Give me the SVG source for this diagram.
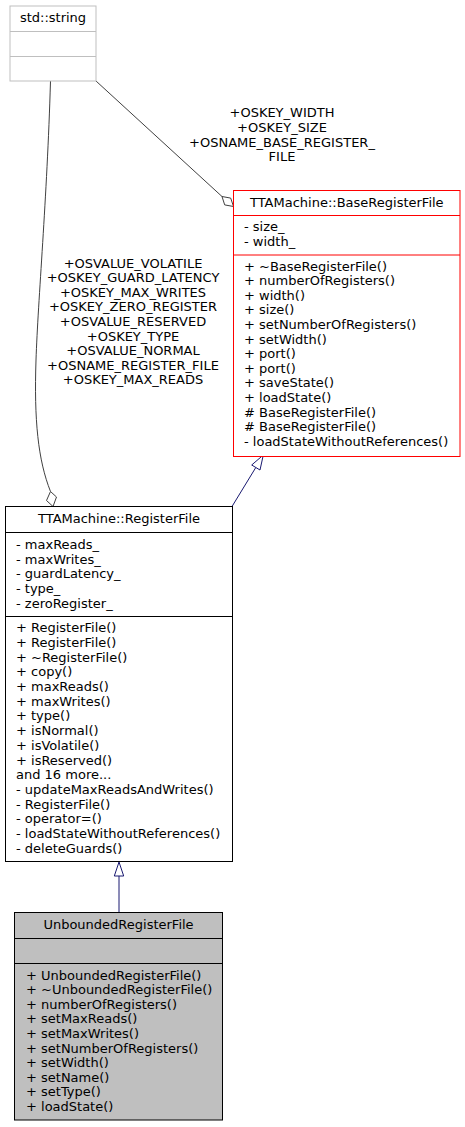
<svg xmlns="http://www.w3.org/2000/svg" width="465" height="1127" viewBox="0 0 465 1127">
<style>
text{font-family:"DejaVu Sans","Liberation Sans",sans-serif;font-size:13px;fill:#000}
.c{text-anchor:middle}
.box{fill:#fff;stroke:#000;stroke-width:1}
.sep{stroke:#000;stroke-width:1}
.agg{fill:none;stroke:#404040;stroke-width:1}
.inh{fill:none;stroke:#191970;stroke-width:1}
</style>
<rect width="465" height="1127" fill="#fff"/>
<g id="connectors">
<path class="agg" d="M50.5,81 C47,200 38,300 36,360 C34,420 38,460 50.5,491.5"/>
<polygon class="agg" points="50.5,491.5 56.5,497 53,506.5 46.5,500.5" style="fill:#fff"/>
<path class="agg" d="M96,81 L222,196.5"/>
<polygon class="agg" points="222,196.5 230.7,198.1 233.5,206.5 224.7,204.9" style="fill:#fff"/>
<path class="inh" d="M232,506.5 L255.8,467.5"/>
<polygon class="inh" points="263.3,455 251.7,465 260,470" style="fill:#fff"/>
<path class="inh" d="M119,912 L119,876"/>
<polygon class="inh" points="119,862 114.3,876 123.7,876" style="fill:#fff"/>
<g id="labels">
<text class="c" x="282" y="117">+OSKEY_WIDTH</text>
<text class="c" x="282" y="132">+OSKEY_SIZE</text>
<text class="c" x="282" y="146.5">+OSNAME_BASE_REGISTER_</text>
<text class="c" x="282" y="161">FILE</text>
<text class="c" x="133" y="267.5">+OSVALUE_VOLATILE</text>
<text class="c" x="133" y="282.1">+OSKEY_GUARD_LATENCY</text>
<text class="c" x="133" y="296.7">+OSKEY_MAX_WRITES</text>
<text class="c" x="133" y="311.3">+OSKEY_ZERO_REGISTER</text>
<text class="c" x="133" y="325.9">+OSVALUE_RESERVED</text>
<text class="c" x="133" y="340.5">+OSKEY_TYPE</text>
<text class="c" x="133" y="355.1">+OSVALUE_NORMAL</text>
<text class="c" x="133" y="369.7">+OSNAME_REGISTER_FILE</text>
<text class="c" x="133" y="384.3">+OSKEY_MAX_READS</text>
</g>
</g>
<g id="std_string">
<rect x="10" y="6" width="86" height="75" style="fill:#fff;stroke:#bfbfbf"/>
<line x1="10" y1="31.5" x2="96" y2="31.5" stroke="#bfbfbf"/>
<line x1="10" y1="56.5" x2="96" y2="56.5" stroke="#bfbfbf"/>
<text class="c" x="53" y="21.5">std::string</text>
</g>
<g id="BaseRegisterFile">
<rect x="233.5" y="190.5" width="226.5" height="266" style="fill:#fff;stroke:#ff0000"/>
<line x1="233.5" y1="215.5" x2="460" y2="215.5" stroke="#ff0000"/>
<line x1="233.5" y1="255" x2="460" y2="255" stroke="#ff0000"/>
<text class="c" x="346.8" y="206.5">TTAMachine::BaseRegisterFile</text>
<text x="244" y="231">- size_</text>
<text x="244" y="245.7">- width_</text>
<text x="244" y="270.5">+ ~BaseRegisterFile()</text>
<text x="244" y="285.1">+ numberOfRegisters()</text>
<text x="244" y="299.7">+ width()</text>
<text x="244" y="314.3">+ size()</text>
<text x="244" y="328.9">+ setNumberOfRegisters()</text>
<text x="244" y="343.5">+ setWidth()</text>
<text x="244" y="358.1">+ port()</text>
<text x="244" y="372.7">+ port()</text>
<text x="244" y="387.3">+ saveState()</text>
<text x="244" y="401.9">+ loadState()</text>
<text x="244" y="416.5"># BaseRegisterFile()</text>
<text x="244" y="431.1"># BaseRegisterFile()</text>
<text x="244" y="445.7">- loadStateWithoutReferences()</text>
</g>
<g id="RegisterFile">
<rect class="box" x="5.5" y="506.5" width="227" height="355"/>
<line class="sep" x1="5.5" y1="532.5" x2="232.5" y2="532.5"/>
<line class="sep" x1="5.5" y1="616.5" x2="232.5" y2="616.5"/>
<text class="c" x="119" y="522.5">TTAMachine::RegisterFile</text>
<text x="16" y="548.8">- maxReads_</text>
<text x="16" y="563.5">- maxWrites_</text>
<text x="16" y="578.2">- guardLatency_</text>
<text x="16" y="592.9">- type_</text>
<text x="16" y="607.6">- zeroRegister_</text>
<text x="16" y="632.2">+ RegisterFile()</text>
<text x="16" y="646.9">+ RegisterFile()</text>
<text x="16" y="661.6">+ ~RegisterFile()</text>
<text x="16" y="676.3">+ copy()</text>
<text x="16" y="691">+ maxReads()</text>
<text x="16" y="705.7">+ maxWrites()</text>
<text x="16" y="720.4">+ type()</text>
<text x="16" y="735.1">+ isNormal()</text>
<text x="16" y="749.8">+ isVolatile()</text>
<text x="16" y="764.5">+ isReserved()</text>
<text x="16" y="779.2">and 16 more...</text>
<text x="16" y="793.9">- updateMaxReadsAndWrites()</text>
<text x="16" y="808.6">- RegisterFile()</text>
<text x="16" y="823.3">- operator=()</text>
<text x="16" y="838">- loadStateWithoutReferences()</text>
<text x="16" y="852.7">- deleteGuards()</text>
</g>
<g id="UnboundedRegisterFile">
<rect x="14.5" y="912.5" width="208" height="207.5" style="fill:#bfbfbf;stroke:#000"/>
<line class="sep" x1="14.5" y1="938.5" x2="222.5" y2="938.5"/>
<line class="sep" x1="14.5" y1="963.5" x2="222.5" y2="963.5"/>
<text class="c" x="118.5" y="929">UnboundedRegisterFile</text>
<text x="26" y="979.5">+ UnboundedRegisterFile()</text>
<text x="26" y="994.1">+ ~UnboundedRegisterFile()</text>
<text x="26" y="1008.7">+ numberOfRegisters()</text>
<text x="26" y="1023.3">+ setMaxReads()</text>
<text x="26" y="1037.9">+ setMaxWrites()</text>
<text x="26" y="1052.5">+ setNumberOfRegisters()</text>
<text x="26" y="1067.1">+ setWidth()</text>
<text x="26" y="1081.7">+ setName()</text>
<text x="26" y="1096.3">+ setType()</text>
<text x="26" y="1110.9">+ loadState()</text>
</g>
</svg>
